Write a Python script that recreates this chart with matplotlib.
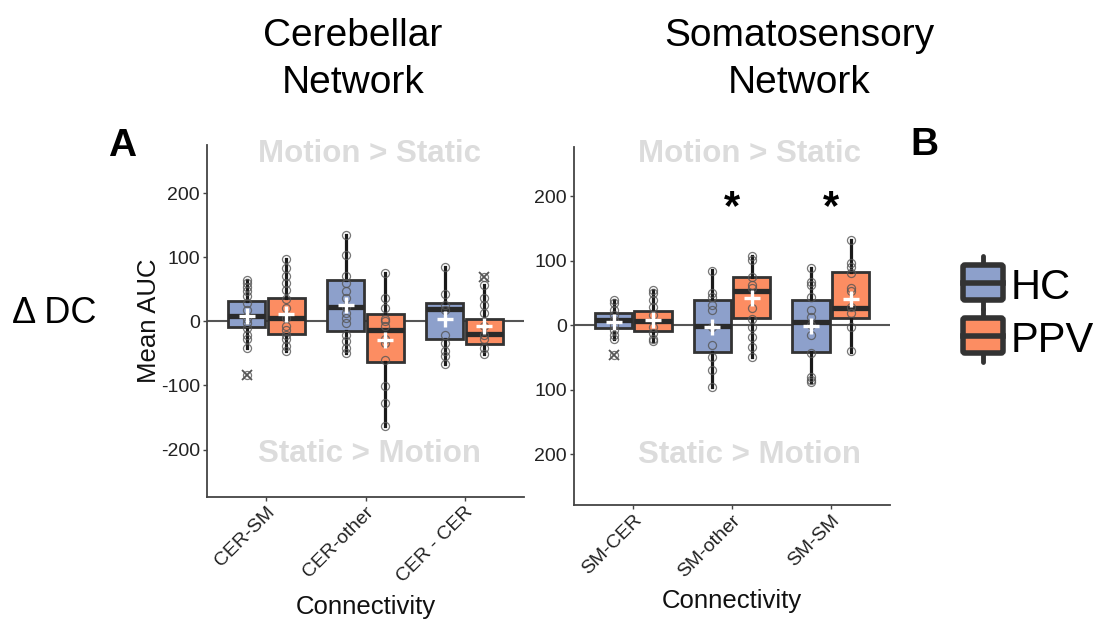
import matplotlib
matplotlib.use("Agg")
import matplotlib.pyplot as plt
from matplotlib.patches import FancyBboxPatch

plt.rcParams['font.family'] = ['Liberation Sans', 'DejaVu Sans']

# ---------------- data ----------------
groups = ["HC", "PPV"]
group_colors = ["#8DA0CB", "#FC8D62"]

cer_categories = ["CER-SM", "CER-other", "CER - CER"]
sm_categories = ["SM-CER", "SM-other", "SM-SM"]

yticks = [-200, -100, 0, 100, 200]
cer_ytick_labels = ["-200", "-100", "0", "100", "200"]
sm_ytick_labels = ["200", "100", "0", "100", "200"]

# Cerebellar network box summaries
cer_hc_q1 = [-9, -14.5, -27]
cer_hc_med = [8, 23, 19]
cer_hc_q3 = [32, 64.5, 28.6]
cer_hc_lo = [-41, -49, -66]
cer_hc_hi = [65, 135, 84]
cer_hc_mean = [8, 25, 4]
cer_hc_out = [[-83], [], []]

cer_ppv_q1 = [-19, -64, -35]
cer_ppv_med = [5, -14, -19]
cer_ppv_q3 = [37, 11.5, 3.6]
cer_ppv_lo = [-46, -164, -51]
cer_ppv_hi = [97, 75, 56]
cer_ppv_mean = [12, -28.5, -7]
cer_ppv_out = [[], [], [69]]

# Cerebellar network individual subjects
cer_hc_pts = [
    [65, 60, 54, 47, 39, 29, 18, 3, -3, -10, -21, -28, -41, -83],
    [135, 104, 70, 60, 47, 36, 23, 13, 5, -3, -21, -31, -41, -49],
    [84, 42, 26, 18, -21, -34, -47, -54, -66],
]
cer_ppv_pts = [
    [97, 83, 70, 60, 49, 35, 21, 5, -8, -13, -21, -28, -39, -46],
    [75, 36, 21, 3, 0, -8, -28, -34, -60, -101, -127, -164],
    [69, 56, 36, 26, 13, -8, -21, -28, -41, -51],
]

# Somatosensory network box summaries
sm_hc_q1 = [-5, -42.5, -42.5]
sm_hc_med = [8, -1.6, 5]
sm_hc_q3 = [18, 39, 39]
sm_hc_lo = [-22, -96, -89]
sm_hc_hi = [39, 84.6, 89]
sm_hc_mean = [4, -2.6, -1.6]
sm_hc_out = [[-46], [], []]

sm_ppv_q1 = [-9, 10.4, 11.4]
sm_ppv_med = [6, 52, 26.5]
sm_ppv_q3 = [22, 74, 81.5]
sm_ppv_lo = [-24, -49, -41.5]
sm_ppv_hi = [54.5, 107.5, 132]
sm_ppv_mean = [8, 41.5, 40]
sm_ppv_out = [[], [], []]

# Somatosensory network individual subjects
sm_hc_pts = [
    [39, 34, 23, 16, 8, 0, -8, -16, -22, -46],
    [84, 49, 44, 31, 23, -3, -31, -49, -70, -96],
    [89, 67, 62, 44, 23, 13, 0, -16, -44, -80, -85, -89],
]
sm_ppv_pts = [
    [54, 49, 39, 28, 16, -3, -13, -21, -24],
    [107, 101, 75, 62, 57, 26, 10, -3, -18, -34, -49],
    [132, 96, 90, 80, 57, 52, 28, 18, -3, -41],
]

sm_significant = [False, True, True]

# ---------------- drawing ----------------
OFFSETS = [-0.2, 0.2]
BOX_W = 0.375


def build_stats(q1, med, q3, lo, hi, out):
    return [dict(q1=a, med=b, q3=c, whislo=d, whishi=e, fliers=f)
            for a, b, c, d, e, f in zip(q1, med, q3, lo, hi, out)]


def draw_panel(ax, cats, series, ylim, ylabels):
    ax.axhline(0, color="#555555", lw=1.5, zorder=0.5)
    for g, (stats, means, pts) in enumerate(series):
        pos = [i + OFFSETS[g] for i in range(len(cats))]
        ax.bxp(stats, positions=pos, widths=BOX_W, patch_artist=True,
               showcaps=False, showfliers=True, zorder=2,
               boxprops=dict(facecolor=group_colors[g], edgecolor="#333333", linewidth=2.0),
               medianprops=dict(color="#2a2a2a", linewidth=3.8, solid_capstyle="butt"),
               whiskerprops=dict(color="#1a1a1a", linewidth=2.3),
               flierprops=dict(marker="x", markersize=7, markeredgecolor="#555555",
                               markeredgewidth=1.3, linestyle="none"))
        for x, vals in zip(pos, pts):
            ax.plot([x] * len(vals), vals, "o", mfc="none", mec="#555555",
                    mew=0.9, ms=5.8, alpha=0.8, zorder=3)
        ax.plot(pos, means, "+", color="white", ms=11, mew=2.4, zorder=4)

    ax.set_xlim(-0.6, 2.6)
    ax.set_ylim(*ylim)
    ax.set_xticks(range(len(cats)))
    ax.set_xticklabels(cats, rotation=45, ha="right", rotation_mode="anchor")
    ax.set_yticks(yticks)
    ax.set_yticklabels(ylabels)
    for s in ("top", "right"):
        ax.spines[s].set_visible(False)
    for s in ("left", "bottom"):
        ax.spines[s].set_color("#444444")
        ax.spines[s].set_linewidth(1.3)
    ax.tick_params(axis="both", labelsize=14, colors="#444444", labelcolor="#222222",
                   length=3, width=1, pad=2)
    ax.set_xlabel("Connectivity", fontsize=18.5, color="#111111", labelpad=6)


fig = plt.figure(figsize=(10.99, 6.28), dpi=100)
W, H = 1099, 628

ax_cer = fig.add_axes([207 / W, 1 - 497 / H, 317 / W, 352 / H])
ax_sm = fig.add_axes([574 / W, 1 - 505 / H, 316 / W, 358 / H])

draw_panel(ax_cer, cer_categories, [
    (build_stats(cer_hc_q1, cer_hc_med, cer_hc_q3, cer_hc_lo, cer_hc_hi, cer_hc_out), cer_hc_mean, cer_hc_pts),
    (build_stats(cer_ppv_q1, cer_ppv_med, cer_ppv_q3, cer_ppv_lo, cer_ppv_hi, cer_ppv_out), cer_ppv_mean, cer_ppv_pts),
], (-274, 275), cer_ytick_labels)

draw_panel(ax_sm, sm_categories, [
    (build_stats(sm_hc_q1, sm_hc_med, sm_hc_q3, sm_hc_lo, sm_hc_hi, sm_hc_out), sm_hc_mean, sm_hc_pts),
    (build_stats(sm_ppv_q1, sm_ppv_med, sm_ppv_q3, sm_ppv_lo, sm_ppv_hi, sm_ppv_out), sm_ppv_mean, sm_ppv_pts),
], (-279, 276), sm_ytick_labels)

ax_cer.set_ylabel("Mean AUC", fontsize=18.5, color="#111111", labelpad=0)

# direction annotations
faint = "#DCDCDC"
ax_cer.text(1.04, 249, "Motion > Static", ha="center", va="baseline",
            fontsize=22.5, fontweight="bold", color=faint)
ax_cer.text(1.04, -220, "Static > Motion", ha="center", va="baseline",
            fontsize=22.5, fontweight="bold", color=faint)
ax_sm.text(1.18, 253, "Motion > Static", ha="center", va="baseline",
           fontsize=22.5, fontweight="bold", color=faint)
ax_sm.text(1.18, -214, "Static > Motion", ha="center", va="baseline",
           fontsize=22.5, fontweight="bold", color=faint)

# significance markers
for i, sig in enumerate(sm_significant):
    if sig:
        ax_sm.text(i, 165, "*", ha="center", va="baseline",
                   fontsize=30, fontweight="bold", color="black")

# titles and panel letters
fig.text(353 / W, 1 - 18 / H, "Cerebellar\nNetwork", ha="center", va="top",
         fontsize=28, linespacing=1.4)
fig.text(799 / W, 1 - 18 / H, "Somatosensory\nNetwork", ha="center", va="top",
         fontsize=28, linespacing=1.4)
fig.text(108 / W, 1 - 156 / H, "A", ha="left", va="baseline", fontsize=28, fontweight="bold")
fig.text(910 / W, 1 - 155 / H, "B", ha="left", va="baseline", fontsize=28, fontweight="bold")
fig.text(12 / W, 1 - 323 / H, "\u0394 DC", ha="left", va="baseline", fontsize=26)

# legend drawn as box glyphs
lax = fig.add_axes([940 / W, 1 - 370 / H, 159 / W, 120 / H])
lax.set_xlim(940, 1099)
lax.set_ylim(370, 250)
lax.axis("off")
for g, (name, top) in enumerate(zip(groups, [265, 318])):
    bh = 35
    cx = 983
    lax.plot([cx, cx], [top - 9, top + bh + 9], color="#333333", lw=3.5,
             solid_capstyle="round", zorder=1)
    lax.add_patch(FancyBboxPatch((963, top), 40, bh, boxstyle="round,pad=0,rounding_size=2",
                                 facecolor=group_colors[g], edgecolor="#333333",
                                 linewidth=4, zorder=2))
    lax.plot([963, 1003], [top + bh / 2, top + bh / 2], color="#333333", lw=4, zorder=3)
    lax.text(1011, top + bh - 1, name, ha="left", va="baseline", fontsize=30, color="black")

fig.savefig("out.png", dpi=100)
